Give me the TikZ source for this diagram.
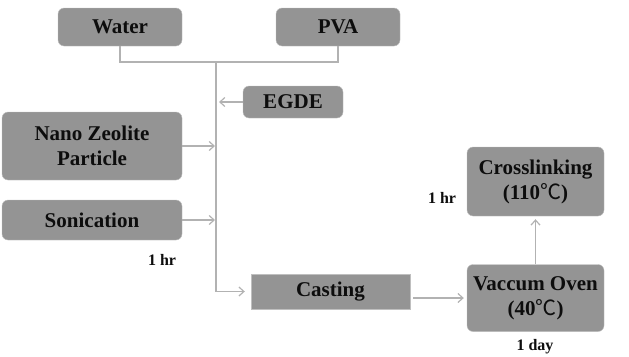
\documentclass[tikz,border=0pt]{standalone}
\usepackage{fontspec}
\setmainfont{Liberation Serif}[BoldFont={Liberation Serif Bold}]
\newfontfamily\cjk{Noto Sans CJK SC}
\usetikzlibrary{arrows.meta,positioning,calc}
\newcommand{\degC}{{\cjk\mdseries ℃}}

\begin{document}
\begin{tikzpicture}[x=1pt, y=-1pt,
  box/.style={draw=black!25, fill=black!42, rounded corners=6pt, align=center,
    font=\rmfamily\bfseries\fontsize{21}{25}\selectfont, text=black!95, inner sep=0pt},
  flat/.style={box, rounded corners=0pt},
  link/.style={draw=black!30, line width=1.2pt},
  arrow/.style={link, -{Straight Barb[length=5pt, width=9pt]}, shorten >=3pt},
  note/.style={font=\rmfamily\bfseries\fontsize{16}{19}\selectfont, text=black!95}
]
  \useasboundingbox (0,0) rectangle (629,356);

  % Materials
  \node[box, minimum width=124pt, minimum height=38pt] (water) at (120,27) {Water};
  \node[box, minimum width=124pt, minimum height=38pt] (pva) at (338,27) {PVA};
  \node[box, minimum width=100pt, minimum height=32pt] (egde) at (293,102) {EGDE};
  \node[box, minimum width=180pt, minimum height=68pt] (zeolite) at (92,146) {Nano Zeolite\\Particle};
  \node[box, minimum width=180pt, minimum height=40pt] (sonic) at (92,220) {Sonication};

  % Process steps
  \node[flat, minimum width=159pt, minimum height=35pt] (cast) at (330.5,291.5) {Casting};
  \node[box, minimum width=137pt, minimum height=67pt] (oven) at (535.5,298) {Vaccum Oven\\(40\degC)};
  \node[box, minimum width=137pt, minimum height=69pt] (cross) at (535.5,181.5) {Crosslinking\\(110\degC)};

  % Times
  \node[note] (hr1) at (162,260) {1 hr};
  \node[note] (hr2) at (442,198) {1 hr};
  \node[note] (day) at (535,347) {1 day};

  % Mixing line
  \coordinate (top) at (216,62);
  \draw[link] (water.south) |- (top);
  \draw[link] (pva.south) |- (top);
  \draw[arrow, shorten >=6pt] (top) |- (cast.west);
  \draw[arrow, shorten <=0pt] (egde.west) -- (egde.west -| top);
  \draw[arrow, shorten >=1pt] (zeolite.east) -- (zeolite.east -| top);
  \draw[arrow, shorten >=1pt] (sonic.east) -- (sonic.east -| top);

  % Drying and crosslinking
  \draw[arrow, shorten <=3pt] (oven.west -| cast.east) -- (oven.west);
  \draw[arrow] (oven.north) -- (cross.south);
\end{tikzpicture}
\end{document}
